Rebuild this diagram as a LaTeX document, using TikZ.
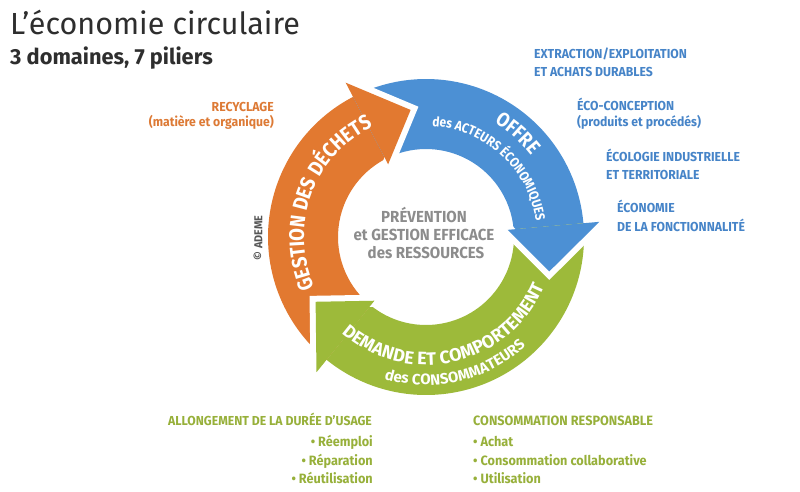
\documentclass[tikz,border=0pt]{standalone}
\usepackage{fontspec}
\setmainfont{Fira Sans}
\newfontfamily\lblf{Fira Sans}[FakeStretch=0.94]
\newfontfamily\ringf{Fira Sans}[FakeStretch=0.88]
\newfontfamily\titlef{Fira Sans}
\usetikzlibrary{decorations.text}
\definecolor{corange}{HTML}{E27930}
\definecolor{cblue}{HTML}{4C90D4}
\definecolor{cgreen}{HTML}{9DBA3A}
\definecolor{tblue}{HTML}{4684C8}
\definecolor{tgreen}{HTML}{97B03A}
\definecolor{torange}{HTML}{DD7A35}
\definecolor{cgray}{HTML}{8C8C8C}
\definecolor{titlegray}{HTML}{2E2E2E}
\definecolor{ademegray}{HTML}{555555}
\tikzset{
  lbl/.style={inner sep=0, font=\lblf\bfseries\fontsize{13}{13}\selectfont},
  bluelbl/.style={lbl, text=tblue, anchor=base west},
  greenlbl/.style={inner sep=0, font=\lblf\bfseries\fontsize{13.5}{13.5}\selectfont, text=tgreen},
  orangelbl/.style={lbl, text=torange, anchor=base east},
  centerlbl/.style={inner sep=0, anchor=base, font=\lblf\bfseries\fontsize{16}{16}\selectfont, text=cgray},
  headgap/.style={draw=white, line width=12pt, line join=miter},
  ringtext/.style={decorate, decoration={text along path, text align=center, text color=white, text={#1}}}
}
\begin{document}
\begin{tikzpicture}[x=1pt,y=1pt]
\useasboundingbox (0,0) rectangle (800,491);
\fill[white] (0,0) rectangle (800,491);

% titles
\node[anchor=base west, inner sep=0, font=\titlef\fontsize{30.5}{30.5}\selectfont, text=titlegray] (title) at (10,456) {L’économie circulaire};
\node[anchor=base west, inner sep=0, font=\titlef\bfseries\fontsize{21.8}{21.8}\selectfont, text=titlegray] (subtitle) at (10,426) {3 domaines, 7 piliers};

% ring
\begin{scope}[shift={(426,254)}]
  % bodies
  \fill[corange] (231:158) arc[start angle=231, end angle=117.5, radius=158] -- (117.5:88) arc[start angle=117.5, end angle=231, radius=88] -- cycle;
  \fill[cblue] (117.5:158) arc[start angle=117.5, end angle=5, radius=158] -- (5:88) arc[start angle=5, end angle=117.5, radius=88] -- cycle;
  \fill[cgreen] (5:158) arc[start angle=5, end angle=-129, radius=158] -- (-129:88) arc[start angle=-129, end angle=5, radius=88] -- cycle;
  % heads
  \path[headgap] (117.5:174) -- (96.9:128) -- (117.5:82);
  \fill[corange] (117.5:174) -- (96.9:128) -- (117.5:82) -- cycle;
  \path[headgap] (5:174) -- (-15.6:128) -- (5:82);
  \fill[cblue] (5:174) -- (-15.6:128) -- (5:82) -- cycle;
  \path[headgap] (-129:174) -- (-149.6:128) -- (-129:82);
  \fill[cgreen] (-129:174) -- (-149.6:128) -- (-129:82) -- cycle;
  % ring texts
  \path[ringtext={|\ringf\bfseries\fontsize{21}{21}\selectfont|GESTION DES DÉCHETS}] (207:122) arc[start angle=207, end angle=113, radius=122];
  \path[ringtext={|\ringf\bfseries\fontsize{20}{20}\selectfont|OFFRE}] (70:133) arc[start angle=70, end angle=27, radius=133];
  \path[ringtext={|\ringf\bfseries\fontsize{13.5}{13.5}\selectfont|des ACTEURS ÉCONOMIQUES}] (96:111) arc[start angle=96, end angle=-1, radius=111];
  \path[ringtext={|\titlef\bfseries\fontsize{18}{18}\selectfont|DEMANDE ET COMPORTEMENT}] (210:128) arc[start angle=210, end angle=356, radius=128];
  \path[ringtext={|\titlef\bfseries\fontsize{15}{15}\selectfont|des CONSOMMATEURS}] (236:148) arc[start angle=236, end angle=330, radius=148];
\end{scope}

% centre
\node[centerlbl] (c1) at (424,269) {PRÉVENTION};
\node[centerlbl] (c2) at (424,251) {et GESTION EFFICACE};
\node[centerlbl] (c3) at (426,233) {des RESSOURCES};

% copyright
\node[rotate=90, inner sep=0, font=\lblf\bfseries\fontsize{11.5}{11.5}\selectfont, text=ademegray] (ademe) at (258,253) {© ADEME};

% left labels
\node[orangelbl] (rec1) at (274,379) {RECYCLAGE};
\node[orangelbl] (rec2) at (274,364) {(matière et organique)};

% right labels
\node[bluelbl] (r1a) at (534,432) {EXTRACTION/EXPLOITATION};
\node[bluelbl] (r1b) at (534,414) {ET ACHATS DURABLES};
\node[bluelbl] (r2a) at (577,381) {ÉCO-CONCEPTION};
\node[bluelbl] (r2b) at (577,364) {(produits et procédés)};
\node[bluelbl] (r3a) at (606,330) {ÉCOLOGIE INDUSTRIELLE};
\node[bluelbl] (r3b) at (606,312) {ET TERRITORIALE};
\node[bluelbl] (r4a) at (617,279) {ÉCONOMIE};
\node[bluelbl] (r4b) at (617,260) {DE LA FONCTIONNALITÉ};

% bottom labels
\node[greenlbl, anchor=base west, font=\lblf\bfseries\fontsize{13}{13}\selectfont] (b1) at (168,66) {ALLONGEMENT DE LA DURÉE D’USAGE};
\node[greenlbl, anchor=base east] (b1a) at (373,45) {• Réemploi};
\node[greenlbl, anchor=base east] (b1b) at (373,26) {• Réparation};
\node[greenlbl, anchor=base east] (b1c) at (373,8) {• Réutilisation};
\node[greenlbl, anchor=base west] (b2) at (473,66) {CONSOMMATION RESPONSABLE};
\node[greenlbl, anchor=base west] (b2a) at (473,45) {• Achat};
\node[greenlbl, anchor=base west] (b2b) at (473,26) {• Consommation collaborative};
\node[greenlbl, anchor=base west] (b2c) at (473,8) {• Utilisation};
\end{tikzpicture}
\end{document}
